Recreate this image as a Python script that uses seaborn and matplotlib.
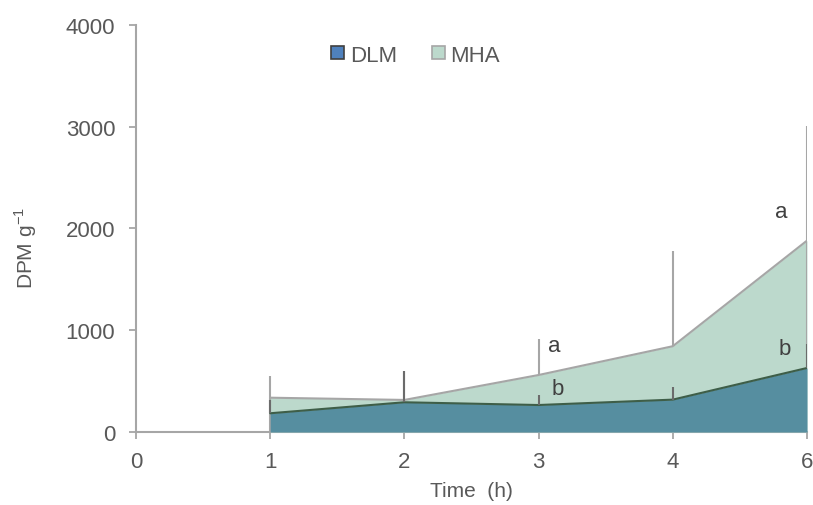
import numpy as np
import pandas as pd
import matplotlib
matplotlib.use("Agg")
import matplotlib.pyplot as plt
from matplotlib.patches import Patch
import seaborn as sns

# Sampling times (h) and mean activity (DPM g-1) per treatment
times = ["0", "1", "2", "3", "4", "6"]
dlm = [np.nan, 184, 292, 265, 318, 629]
mha = [np.nan, 337, 315, 560, 843, 1881]
# Upper error (SD) per time point
dlm_err = [np.nan, 131, 311, 99, 128, 236]
mha_err = [np.nan, 211, 280, 354, 940, 1130]
# Significance letters
letter_pos = [3, 3, 5, 5]
letter_series = ["MHA", "DLM", "MHA", "DLM"]
letter_text = ["a", "b", "a", "b"]

sns.set_theme(style="white")
plt.rcParams["font.family"] = ["Liberation Sans", "DejaVu Sans"]

txt = "#595959"
axis_col = "#A6A6A6"
dlm_fill, dlm_line, dlm_bar = "#568EA0", "#3E5E48", "#6B6B6B"
mha_fill, mha_line = "#BCD9CC", "#A6A6A6"

df = pd.DataFrame({"pos": np.arange(len(times)), "DLM": dlm, "MHA": mha,
                   "DLM_err": dlm_err, "MHA_err": mha_err})
d = df.dropna()

fig = plt.figure(figsize=(8.13, 5.06), dpi=100)
ax = fig.add_axes([0.1673, 0.1443, 0.8253, 0.8043])

# MHA area (behind) with its outline and upper error bars
ax.fill_between(d["pos"], 0, d["MHA"], color=mha_fill, lw=0, zorder=1)
sns.lineplot(x=d["pos"], y=d["MHA"], ax=ax, color=mha_line, lw=1.5, zorder=2)
ax.vlines([d["pos"].iloc[0], d["pos"].iloc[-1]], 0,
          [d["MHA"].iloc[0], d["MHA"].iloc[-1]], color=mha_line, lw=1.5, zorder=2)
ax.vlines(d["pos"], d["MHA"], d["MHA"] + d["MHA_err"], color=mha_line, lw=1.5, zorder=2)

# DLM area (front) with its outline and upper error bars
ax.fill_between(d["pos"], 0, d["DLM"], color=dlm_fill, lw=0, zorder=3)
sns.lineplot(x=d["pos"], y=d["DLM"], ax=ax, color=dlm_line, lw=1.5, zorder=4)
ax.vlines(d["pos"], d["DLM"], d["DLM"] + d["DLM_err"], color=dlm_bar, lw=1.5, zorder=4)

# letters sit beside the error bars
for i, series, s in zip(letter_pos, letter_series, letter_text):
    top = df.loc[i, series] + df.loc[i, series + "_err"]
    if i < len(times) - 1:
        xo = 0.115 if series == "MHA" else 0.145
        yo = -60 if series == "MHA" else 68
    else:
        xo = -0.194 if series == "MHA" else -0.164
        yo = -840 if series == "MHA" else -49
    ax.text(i + xo, top + yo, s, fontsize=16, color="#404040",
            ha="center", va="center", zorder=6)

ax.set_xlim(0, len(times) - 1)
ax.set_ylim(0, 4000)
ax.set_xticks(range(len(times)))
ax.set_xticklabels(times)
ax.set_yticks([0, 1000, 2000, 3000, 4000])
ax.set_xlabel("Time  (h)", fontsize=15, color=txt, labelpad=6)
ax.set_ylabel("DPM g$^{\\mathregular{-1}}$", fontsize=15, color=txt)
ax.yaxis.set_label_coords(-0.144, 0.455)
ax.tick_params(axis="both", labelsize=16, colors=axis_col, labelcolor=txt,
               length=5, width=1.3, direction="out", left=True, bottom=True)
ax.tick_params(axis="x", pad=9)
ax.tick_params(axis="y", pad=10)
for side in ["top", "right"]:
    ax.spines[side].set_visible(False)
for side in ["left", "bottom"]:
    ax.spines[side].set_color(axis_col)
    ax.spines[side].set_linewidth(1.5)
    ax.spines[side].set_zorder(0.5)

handles = [Patch(facecolor="#4F81BD", edgecolor="#404040", lw=1.2, label="DLM"),
           Patch(facecolor=mha_fill, edgecolor=mha_line, lw=1.2, label="MHA")]
ax.legend(handles=handles, loc="center", bbox_to_anchor=(0.417, 0.926),
          ncol=2, frameon=False, fontsize=16, handlelength=0.55, handleheight=0.55,
          handletextpad=0.27, columnspacing=1.6, labelcolor=txt)

fig.savefig("out.png", dpi=100)
